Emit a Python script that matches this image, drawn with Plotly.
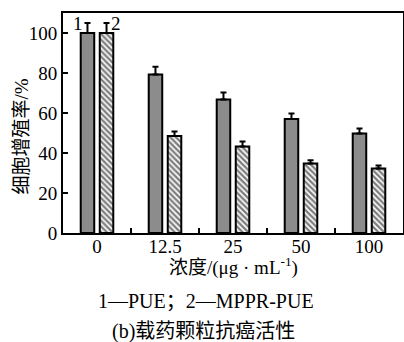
import plotly.graph_objects as go

categories = ["0", "12.5", "25", "50", "100"]
pue = [100, 79.3, 66.8, 57.0, 49.8]
pue_err = [5.0, 3.8, 3.4, 2.8, 2.5]
mppr = [100, 48.5, 43.3, 34.8, 32.2]
mppr_err = [5.0, 2.2, 2.4, 1.6, 1.6]
y_ticks = [0, 20, 40, 60, 80, 100]

SERIF = "Liberation Serif"
CJK = "Liberation Serif, Noto Sans CJK SC"

fig = go.Figure()
fig.add_trace(go.Bar(
    x=categories, y=pue, name="PUE",
    marker=dict(color="#8c8c8c", line=dict(color="black", width=2)),
    error_y=dict(type="data", symmetric=False, array=pue_err,
                 arrayminus=[0] * len(pue), color="black", thickness=2, width=3),
))
fig.add_trace(go.Bar(
    x=categories, y=mppr, name="MPPR-PUE",
    marker=dict(color="white", line=dict(color="black", width=2),
                pattern=dict(shape="\\", fgcolor="black", bgcolor="white",
                             size=4, solidity=0.6)),
    error_y=dict(type="data", symmetric=False, array=mppr_err,
                 arrayminus=[0] * len(mppr), color="black", thickness=2, width=3),
))

fig.update_layout(
    width=404, height=342,
    margin=dict(l=63, r=1, t=13, b=109, autoexpand=False),
    paper_bgcolor="white", plot_bgcolor="white",
    barmode="group", bargap=0.44, bargroupgap=0.29,
    showlegend=False,
    font=dict(family=SERIF, size=19, color="black"),
)
fig.update_xaxes(
    type="category", range=[-0.5, 4.5], automargin=False,
    showline=True, linecolor="black", linewidth=2, mirror=True,
    ticks="inside", tickson="boundaries", ticklen=5, tickwidth=2, tickcolor="black",
    showgrid=False, zeroline=False, ticklabelstandoff=-5,
    tickfont=dict(family=SERIF, size=19),
)
fig.update_yaxes(
    range=[0, 110], tickvals=y_ticks, automargin=False,
    showline=True, linecolor="black", linewidth=2, mirror=True,
    ticks="inside", ticklen=5, tickwidth=2, tickcolor="black",
    showgrid=False, zeroline=False,
    tickfont=dict(family=SERIF, size=19),
)

def ann(x, y, text, xref="paper", yref="paper", size=19, **kw):
    fig.add_annotation(x=x, y=y, xref=xref, yref=yref, text=text, showarrow=False,
                       xanchor="center", yanchor="middle",
                       font=dict(family=CJK, size=size), **kw)

ann(-0.275, 104.8, "1", xref="x", yref="y")
ann(0.28, 104.8, "2", xref="x", yref="y")
ann((21 - 63) / 340, (233 - 136.5) / 220, "细胞增殖率/%", textangle=-90)
ann(0.5, (233 - 266) / 220, "浓度/(μg · mL<sup>-1</sup>)")
ann((206 - 63) / 340, (233 - 301) / 220, "1—PUE；2—MPPR-PUE", size=20)
ann((203 - 63) / 340, (233 - 331) / 220, "(b)载药颗粒抗癌活性", size=20)

fig.write_html("out.html", config={"displayModeBar": False},
               post_script="document.body.style.margin='0';document.body.style.overflow='hidden';")
